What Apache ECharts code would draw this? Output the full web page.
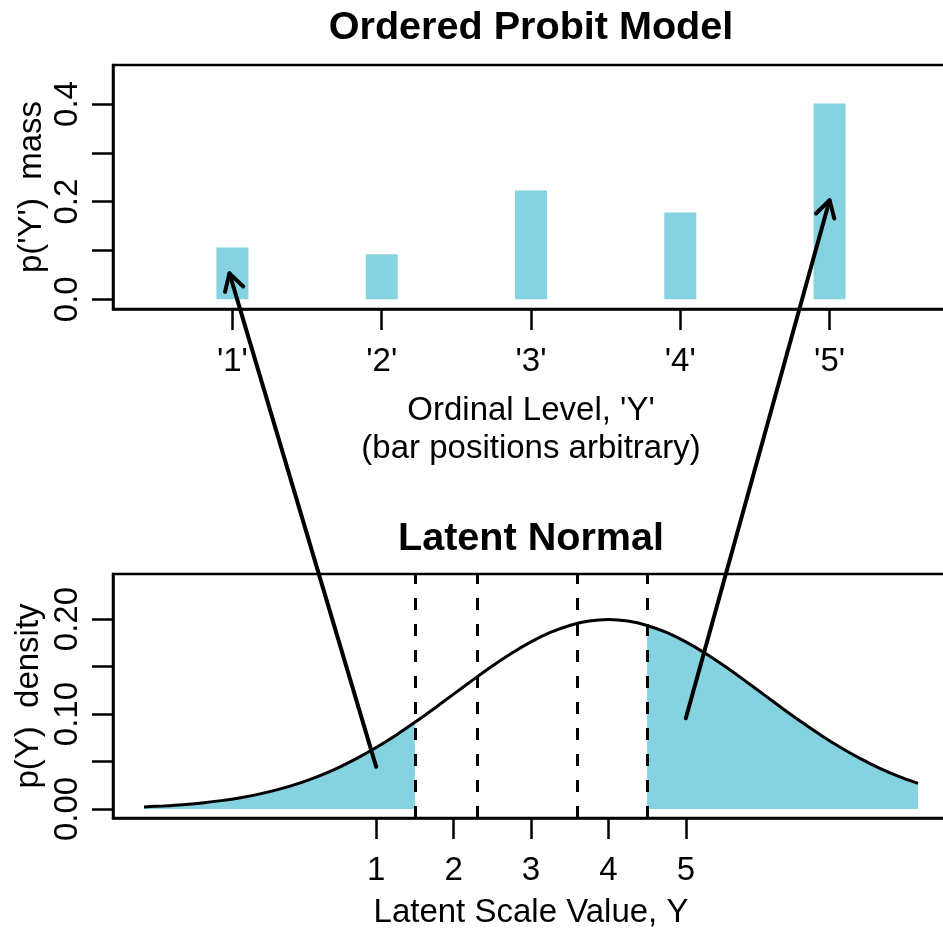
<!DOCTYPE html>
<html>
<head>
<meta charset="utf-8">
<script src="https://cdn.jsdelivr.net/npm/echarts@6/dist/echarts.min.js"></script>
<style>
  html, body { margin: 0; padding: 0; background: #fff; }
  #main { width: 943px; height: 928px; }
</style>
</head>
<body>
<div id="main"></div>
<script>
// Ordinal levels and their probability mass
const ordinalLevels = ["'1'", "'2'", "'3'", "'4'", "'5'"];
const levelPositions = [1, 2, 3, 4, 5];
const levelMass = [0.106, 0.092, 0.223, 0.178, 0.401];

// Latent normal density, sampled along the latent scale
const latentX = [-2, -1.75, -1.5, -1.25, -1, -0.75, -0.5, -0.25, 0, 0.25, 0.5, 0.75,
  1, 1.25, 1.5, 1.75, 2, 2.25, 2.5, 2.75, 3, 3.25, 3.5, 3.75, 4, 4.25, 4.5, 4.75,
  5, 5.25, 5.5, 5.75, 6, 6.25, 6.5, 6.75, 7, 7.25, 7.5, 7.75, 8];
const latentDensity = [0.0022, 0.0032, 0.0045, 0.0064, 0.0088, 0.0119, 0.0159, 0.0209,
  0.0270, 0.0344, 0.0431, 0.0533, 0.0648, 0.0775, 0.0913, 0.1059, 0.1210, 0.1360,
  0.1506, 0.1641, 0.1760, 0.1859, 0.1933, 0.1979, 0.1995, 0.1979, 0.1933, 0.1859,
  0.1760, 0.1641, 0.1506, 0.1360, 0.1210, 0.1059, 0.0913, 0.0775, 0.0648, 0.0533,
  0.0431, 0.0344, 0.0270];

// Thresholds cutting the latent scale into ordinal levels
const thresholds = [1.5, 2.3, 3.6, 4.5];

// Tick marks and labels
const massTicks = [0, 0.1, 0.2, 0.3, 0.4];
const massLabels = [0, 0.2, 0.4];
const densityTicks = [0, 0.05, 0.1, 0.15, 0.2];
const densityLabels = [0, 0.1, 0.2];
const latentTicks = [1, 2, 3, 4, 5];

// Arrows: tail on the latent density panel, head on the bar panel (data units)
const arrowTails = [[1, 0.0444], [5, 0.0956]];
const arrowHeads = [[0.98, 0.053], [5, 0.203]];

const FONT = "'Liberation Sans', Arial, Helvetica, sans-serif";
const BAR_COLOR = '#85D2E0';
const LABEL_SIZE = 33;
const TITLE_SIZE = 39.6;

const chart = echarts.init(document.getElementById('main'), null, { renderer: 'canvas' });

const curve = latentX.map((x, i) => [x, latentDensity[i]]);
const lowTail = curve.filter(p => p[0] <= thresholds[0]);
const highTail = curve.filter(p => p[0] >= thresholds[thresholds.length - 1]);
const bars = levelPositions.map((x, i) => [x, levelMass[i]]);

function ticks(values) {
  return { show: true, inside: false, length: 21, customValues: values,
    lineStyle: { color: '#000', width: 2.5 } };
}
function axisLine() {
  return { show: true, onZero: false, lineStyle: { color: '#000', width: 2.5 } };
}
function labelText(extra) {
  return Object.assign({ color: '#000', fontSize: LABEL_SIZE, fontFamily: FONT }, extra);
}

const GRID_LEFT = 113, GRID_WIDTH = 836;

chart.setOption({
  animation: false,
  backgroundColor: '#fff',
  grid: [
    { left: GRID_LEFT, top: 65, width: GRID_WIDTH, height: 244, show: true,
      outerBoundsMode: 'none', containLabel: false,
      borderColor: '#000', borderWidth: 2.5, backgroundColor: 'transparent' },
    { left: GRID_LEFT, top: 574, width: GRID_WIDTH, height: 244, show: true,
      outerBoundsMode: 'none', containLabel: false,
      borderColor: '#000', borderWidth: 2.5, backgroundColor: 'transparent' }
  ],
  xAxis: [
    {
      type: 'value', gridIndex: 0, min: 0.2, max: 5.8, position: 'bottom',
      axisLine: axisLine(), splitLine: { show: false },
      axisTick: ticks(levelPositions),
      axisLabel: labelText({
        customValues: levelPositions, margin: 36,
        formatter: v => ordinalLevels[levelPositions.indexOf(v)]
      }),
      name: "Ordinal Level, 'Y'\n(bar positions arbitrary)",
      nameLocation: 'middle', nameGap: 83, nameMoveOverlap: false,
      nameTextStyle: labelText({ lineHeight: 38 })
    },
    {
      type: 'value', gridIndex: 1, min: -2.4, max: 8.4, position: 'bottom',
      axisLine: axisLine(), splitLine: { show: false },
      axisTick: ticks(latentTicks),
      axisLabel: labelText({ customValues: latentTicks, margin: 36, formatter: v => String(v) }),
      name: 'Latent Scale Value, Y',
      nameLocation: 'middle', nameGap: 76, nameMoveOverlap: false,
      nameTextStyle: labelText({ lineHeight: 38 })
    }
  ],
  yAxis: [
    {
      type: 'value', gridIndex: 0, min: -0.02, max: 0.48, position: 'left',
      axisLine: axisLine(), splitLine: { show: false },
      axisTick: ticks(massTicks),
      axisLabel: labelText({ customValues: massLabels, rotate: 90, margin: 29,
        formatter: v => v.toFixed(1) }),
      name: "p('Y')  mass", nameLocation: 'middle', nameGap: 64, nameRotate: 90,
      nameMoveOverlap: false,
      nameTextStyle: labelText({ lineHeight: 34 })
    },
    {
      type: 'value', gridIndex: 1, min: -0.0095, max: 0.2475, position: 'left',
      axisLine: axisLine(), splitLine: { show: false },
      axisTick: ticks(densityTicks),
      axisLabel: labelText({ customValues: densityLabels, rotate: 90, margin: 29,
        formatter: v => v.toFixed(2) }),
      name: 'p(Y)  density', nameLocation: 'middle', nameGap: 67, nameRotate: 90,
      nameMoveOverlap: false,
      nameTextStyle: labelText({ lineHeight: 34 })
    }
  ],
  series: [
    {
      name: 'mass', type: 'bar', xAxisIndex: 0, yAxisIndex: 0,
      data: bars, barWidth: 32, itemStyle: { color: BAR_COLOR }, z: 2
    },
    {
      name: 'low tail', type: 'line', xAxisIndex: 1, yAxisIndex: 1,
      data: lowTail, smooth: 0.3, showSymbol: false,
      lineStyle: { width: 0 }, areaStyle: { color: BAR_COLOR, opacity: 1 }, z: 1
    },
    {
      name: 'high tail', type: 'line', xAxisIndex: 1, yAxisIndex: 1,
      data: highTail, smooth: 0.3, showSymbol: false,
      lineStyle: { width: 0 }, areaStyle: { color: BAR_COLOR, opacity: 1 }, z: 1
    },
    {
      name: 'density', type: 'line', xAxisIndex: 1, yAxisIndex: 1,
      data: curve, smooth: 0.3, showSymbol: false,
      lineStyle: { color: '#000', width: 3 }, z: 3,
      markLine: {
        silent: true, symbol: ['none', 'none'], label: { show: false },
        lineStyle: { color: '#000', width: 3, type: [12, 14] },
        data: thresholds.map(t => ({ xAxis: t }))
      }
    }
  ]
});

// Panel titles and arrows, placed through the axes' own scales
function overlay() {
  const g = [];
  const cx = GRID_LEFT + GRID_WIDTH / 2;
  const titles = [['Ordered Probit Model', 28], ['Latent Normal', 539]];
  titles.forEach(([t, y]) => {
    g.push({
      type: 'text', x: cx, y: y, z: 100,
      style: { text: t, font: 'bold ' + TITLE_SIZE + 'px ' + FONT, fill: '#000',
        align: 'center', verticalAlign: 'middle', textAlign: 'center', textVerticalAlign: 'middle' }
    });
  });
  arrowTails.forEach((tail, i) => {
    const p0 = chart.convertToPixel({ xAxisIndex: 1, yAxisIndex: 1 }, tail);
    const p1 = chart.convertToPixel({ xAxisIndex: 0, yAxisIndex: 0 }, arrowHeads[i]);
    const ang = Math.atan2(p1[1] - p0[1], p1[0] - p0[0]);
    const L = 19, a = Math.PI / 6;
    const b1 = [p1[0] - L * Math.cos(ang - a), p1[1] - L * Math.sin(ang - a)];
    const b2 = [p1[0] - L * Math.cos(ang + a), p1[1] - L * Math.sin(ang + a)];
    g.push({
      type: 'line', z: 100,
      shape: { x1: p0[0], y1: p0[1], x2: p1[0], y2: p1[1] },
      style: { stroke: '#000', lineWidth: 4, lineCap: 'round' }
    });
    g.push({
      type: 'polyline', z: 100,
      shape: { points: [b1, p1, b2] },
      style: { stroke: '#000', fill: null, lineWidth: 4, lineCap: 'round', lineJoin: 'round' }
    });
  });
  return g;
}
chart.setOption({ graphic: overlay() });
</script>
</body>
</html>
